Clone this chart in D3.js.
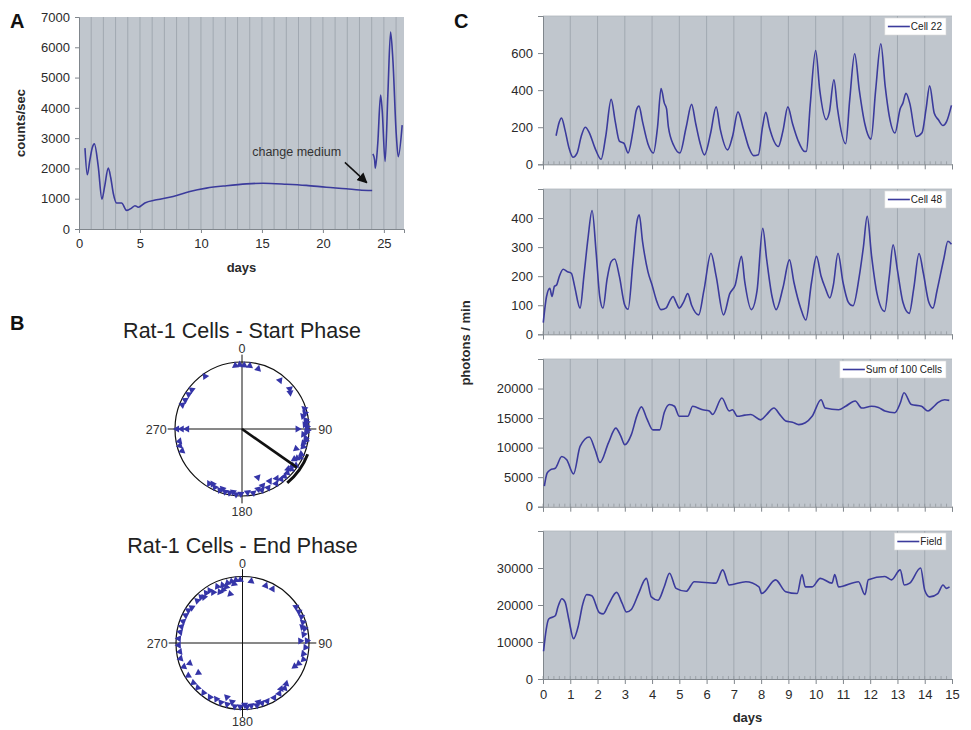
<!DOCTYPE html>
<html><head><meta charset="utf-8">
<script src="https://cdn.jsdelivr.net/npm/d3@7"></script>
<style>
body{margin:0;background:#fff}
svg{display:block}
text{font-family:"Liberation Sans",Arial,Helvetica,sans-serif}
</style>
</head><body>
<svg id="fig" width="971" height="730"></svg>
<script>
// ---------- Panel A: long-term recording, counts/sec vs days ----------
const aYTicks = [0,1000,2000,3000,4000,5000,6000,7000];
const aXTicks = [0,5,10,15,20,25];
const aBefore = [[0.49,2670],[0.68,1790],[0.9,2300],[1.1,2700],[1.26,2810],[1.58,2060],[1.88,990],[2.1,1400],[2.4,2010],[2.6,1700],[2.81,1180],[3.08,860],[3.49,860],[3.9,615],[4.31,690],[4.59,770],[4.86,720],[5.4,860],[6.36,965],[7.72,1075],[9.09,1240],[10.45,1350],[12.09,1430],[13.73,1490],[15.09,1510],[17.0,1480],[18.64,1440],[20.28,1380],[21.92,1330],[23.0,1290],[24.04,1270]];
const aAfter = [[24.1,2480],[24.24,2280],[24.3,2010],[24.5,2830],[24.73,4420],[24.86,3930],[25.1,2230],[25.33,4480],[25.55,6500],[25.74,5570],[26.01,3160],[26.18,2390],[26.5,3430]];
const aNote = {text:"change medium", at:[17.85,2420], from:[21.8,2200], to:[23.6,1530]};

// ---------- Panel B: phase distributions, [angle in degrees, radius fraction] ----------
const startPhase = [[354,.95],[358,.96],[2,.95],[7,.95],[15,.93],[38,.92],[50,.93],[53,.9],[72,.98],[76,.97],[78,.93],[82,.96],[84,.97],[86,.94],[88,.97],[90,.83],[91,.98],[93,.96],[95,.92],[98,.96],[100,.97],[103,.94],[106,.95],[110,.86],[113,.96],[116,.97],[118,.93],[120,.9],[124,.97],[126,.93],[129,.95],[131,.91],[134,.94],[138,.95],[142,.95],[145,.9],[148,.96],[152,.88],[156,.96],[160,.9],[162,.96],[162,.76],[165,.93],[170,.97],[175,.95],[181,.97],[185,.98],[188,.95],[191,.97],[195,.97],[198,.94],[200,.97],[205,.96],[208,.93],[211,.95],[250,.95],[255,.96],[259,.95],[270,.97],[270,.9],[270,.82],[292,.96],[297,.95],[303,.95],[308,.95],[325,.96]];
const endPhase = [[358,.95],[354,.95],[352,.9],[350,.94],[346,.93],[344,.88],[341,.92],[340,.85],[336,.93],[330,.88],[328,.93],[324,.93],[320,.9],[318,.93],[313,.93],[305,.93],[301,.95],[296,.95],[346,.76],[336,.84],[8,.94],[22,.93],[29,.93],[56,.97],[61,.97],[66,.97],[71,.96],[75,.93],[77,.96],[82,.93],[88,.97],[88,.87],[94,.95],[100,.93],[105,.95],[110,.9],[114,.86],[133,.9],[137,.93],[140,.9],[144,.94],[150,.95],[157,.95],[162,.95],[165,.92],[167,.96],[172,.95],[176,.96],[178,.93],[182,.96],[187,.96],[190,.9],[194,.95],[196,.85],[200,.95],[205,.93],[211,.95],[218,.95],[225,.95],[231,.95],[239,.95],[236,.8],[248,.95],[256,.96],[249,.85],[262,.95],[268,.96],[274,.96],[280,.95],[285,.95],[290,.95]];
const startMean = {angle:125, length:1.0, arcFrom:111, arcTo:140, arcRadius:1.05};
const phaseLabels = [0,90,180,270];

// ---------- Panel C: photons / min vs days ----------
const cXTicks = d3.range(0,16);
const cell22 = [[0.48,154],[0.6,230],[0.68,250],[0.8,190],[0.95,90],[1.1,38],[1.25,60],[1.4,150],[1.55,200],[1.7,170],[1.9,90],[2.13,27],[2.3,150],[2.5,350],[2.65,230],[2.8,125],[2.97,113],[3.12,61],[3.3,180],[3.42,290],[3.52,314],[3.65,230],[3.85,110],[4.05,61],[4.2,200],[4.33,409],[4.45,330],[4.53,300],[4.6,200],[4.8,100],[5.02,61],[5.25,200],[5.45,323],[5.6,220],[5.75,120],[5.92,51],[6.15,170],[6.35,310],[6.5,190],[6.77,78],[6.95,150],[7.15,283],[7.35,190],[7.55,90],[7.72,47],[7.9,52],[8.05,200],[8.17,280],[8.3,200],[8.63,96],[8.8,180],[8.98,310],[9.15,220],[9.35,130],[9.6,69],[9.66,70],[9.8,320],[10.0,614],[10.15,400],[10.39,241],[10.5,280],[10.67,456],[10.8,300],[11.1,111],[11.25,350],[11.43,596],[11.6,400],[11.8,220],[12.03,136],[12.2,400],[12.39,650],[12.55,420],[12.7,260],[12.91,169],[13.1,300],[13.2,330],[13.31,383],[13.45,330],[13.69,150],[13.9,170],[14.05,300],[14.18,423],[14.35,275],[14.5,240],[14.67,209],[14.8,230],[14.98,318]];
const cell48 = [[0.01,40],[0.13,130],[0.25,158],[0.33,130],[0.42,165],[0.5,170],[0.6,200],[0.74,224],[0.9,215],[1.04,210],[1.16,165],[1.36,90],[1.5,200],[1.65,330],[1.8,426],[1.95,280],[2.08,130],[2.2,90],[2.35,190],[2.5,250],[2.63,259],[2.8,200],[3.0,100],[3.12,86],[3.3,250],[3.45,390],[3.53,411],[3.65,320],[3.85,215],[4.0,170],[4.15,120],[4.33,85],[4.51,90],[4.65,115],[4.77,130],[4.88,110],[5.0,90],[5.15,110],[5.31,140],[5.45,100],[5.71,67],[5.9,150],[6.16,279],[6.35,200],[6.62,67],[6.85,140],[7.05,170],[7.28,268],[7.4,180],[7.64,85],[7.85,150],[8.06,365],[8.2,260],[8.4,130],[8.55,85],[8.8,160],[9.04,256],[9.2,180],[9.45,90],[9.64,49],[9.85,180],[10.03,268],[10.2,200],[10.35,160],[10.52,125],[10.65,170],[10.82,279],[11.0,180],[11.2,110],[11.37,98],[11.6,200],[11.75,300],[11.89,406],[12.05,270],[12.25,140],[12.53,79],[12.7,200],[12.84,308],[13.0,220],[13.2,110],[13.43,72],[13.6,160],[13.79,278],[13.95,210],[14.15,110],[14.3,90],[14.45,150],[14.7,260],[14.85,320],[14.98,310]];
const sum100 = [[0.05,3500],[0.15,5670],[0.27,6240],[0.45,6500],[0.69,8500],[0.87,7940],[1.12,5560],[1.36,10200],[1.7,11800],[1.91,9640],[2.09,7480],[2.4,10800],[2.67,13300],[2.85,12000],[3.0,10500],[3.24,12200],[3.45,15500],[3.61,16900],[3.8,15000],[4.03,13000],[4.28,13000],[4.45,16000],[4.64,17300],[4.82,17000],[5.0,15300],[5.31,15300],[5.49,17000],[5.86,16400],[6.1,16200],[6.22,15600],[6.56,18400],[6.83,16200],[6.95,16400],[7.13,15300],[7.4,15500],[7.62,15600],[7.98,14700],[8.2,15600],[8.47,16700],[8.7,15500],[8.9,14500],[9.15,14300],[9.38,13900],[9.62,14200],[9.87,15300],[10.2,18100],[10.35,16700],[10.84,16400],[11.1,17000],[11.45,17900],[11.69,16700],[12.05,17000],[12.3,16800],[12.54,16200],[12.9,15900],[13.1,17500],[13.24,19300],[13.51,17300],[13.88,17000],[14.12,16200],[14.3,16800],[14.48,17600],[14.73,18100],[14.9,18000]];
const field = [[0.02,7500],[0.12,13500],[0.21,16200],[0.45,17100],[0.55,19500],[0.69,21700],[0.81,20800],[0.95,16000],[1.12,10900],[1.3,14500],[1.45,20000],[1.6,22800],[1.79,22500],[2.07,17900],[2.21,17600],[2.39,19900],[2.7,23400],[2.9,20500],[3.06,18100],[3.24,18800],[3.5,23000],[3.73,26800],[3.79,27200],[3.97,22200],[4.22,21300],[4.45,25000],[4.64,28600],[4.88,24500],[5.25,23700],[5.55,26300],[6.34,25900],[6.59,29500],[6.83,25400],[7.44,26300],[7.92,24900],[8.02,23100],[8.53,26800],[8.9,23600],[9.32,23100],[9.5,28200],[9.62,24900],[9.87,24900],[10.17,27200],[10.6,25900],[10.7,28200],[10.84,24900],[11.57,26300],[11.81,22800],[11.93,26800],[12.54,27700],[12.78,26800],[13.1,29500],[13.25,25400],[13.45,25900],[13.85,30000],[14.0,24000],[14.18,22200],[14.48,23100],[14.67,25400],[14.79,24500],[14.91,24900]];

const cell22Ticks = [0,200,400,600];
const cell48Ticks = [0,100,200,300,400];
const sum100Ticks = [0,5000,10000,15000,20000];
const fieldTicks = [0,10000,20000,30000];

// ---------- styling ----------
const FILL = "#c0c6cd", GRID = "#99a1a9", LINE = "#3b3b9c", AXIS = "#80868c", TXT = "#2a2a2a";
const svg = d3.select("#fig");
svg.append("rect").attr("width",971).attr("height",730).attr("fill","#fff");

function styleAxis(g){
  g.select(".domain").attr("stroke",AXIS);
  g.selectAll(".tick line").attr("stroke",AXIS);
  g.selectAll(".tick text").attr("fill",TXT).style("font-size","13px");
}

// ====== Panel A ======
(function(){
  const x = d3.scaleLinear().domain([0,26.65]).range([79,404]);
  const y = d3.scaleLinear().domain([0,7000]).range([229,17]);
  const g = svg.append("g");
  g.append("rect").attr("x",x.range()[0]).attr("y",y.range()[1])
    .attr("width",x.range()[1]-x.range()[0]).attr("height",y.range()[0]-y.range()[1]).attr("fill",FILL);
  g.selectAll("line.grid").data(d3.range(1,27)).join("line")
    .attr("x1",d=>x(d)).attr("x2",d=>x(d)).attr("y1",y(0)).attr("y2",y(7000))
    .attr("stroke",GRID).attr("stroke-width",0.8);
  g.append("g").attr("transform",`translate(${x(0)},0)`)
    .call(d3.axisLeft(y).tickValues(aYTicks).tickSize(4).tickPadding(5).tickFormat(d3.format("d"))).call(styleAxis);
  g.append("g").attr("transform",`translate(0,${y(0)})`)
    .call(d3.axisBottom(x).tickValues(aXTicks).tickSize(4).tickPadding(6)).call(styleAxis);
  const line = d3.line().x(d=>x(d[0])).y(d=>y(d[1])).curve(d3.curveMonotoneX);
  [aBefore,aAfter].forEach(s=>g.append("path").attr("d",line(s)).attr("fill","none")
    .attr("stroke",LINE).attr("stroke-width",1.6));
  g.append("text").attr("x",x(aNote.at[0])).attr("y",y(aNote.at[1])).attr("text-anchor","middle")
    .attr("fill","#333").style("font-size","12.5px").text(aNote.text);
  const defs = svg.append("defs");
  defs.append("marker").attr("id","ah").attr("viewBox","0 0 10 10").attr("refX",9).attr("refY",5)
    .attr("markerWidth",7).attr("markerHeight",7).attr("orient","auto")
    .append("path").attr("d","M0,0 L10,5 L0,10 z").attr("fill","#111");
  g.append("line").attr("x1",x(aNote.from[0])).attr("y1",y(aNote.from[1]))
    .attr("x2",x(aNote.to[0])).attr("y2",y(aNote.to[1]))
    .attr("stroke","#111").attr("stroke-width",1.5).attr("marker-end","url(#ah)");
  g.append("text").attr("x",(x.range()[0]+x.range()[1])/2).attr("y",272).attr("text-anchor","middle")
    .style("font-weight","bold").style("font-size","13px").attr("fill",TXT).text("days");
  g.append("text").attr("transform",`translate(25,${(y.range()[0]+y.range()[1])/2}) rotate(-90)`)
    .attr("text-anchor","middle").style("font-weight","bold").style("font-size","13px").attr("fill",TXT).text("counts/sec");
  g.append("text").attr("x",10).attr("y",28).style("font-weight","bold").style("font-size","20px").attr("fill","#111").text("A");
})();

// ====== Panel B ======
svg.append("text").attr("x",10).attr("y",330).style("font-weight","bold").style("font-size","20px").attr("fill","#111").text("B");

function polar(cx, cy, R, title, titleY, bottomLabelGap, pts, mean){
  const g = svg.append("g").attr("transform",`translate(${cx},${cy})`);
  const r = d3.scaleLinear().domain([0,1]).range([0,R]);
  const a = d3.scaleLinear().domain([0,360]).range([0,2*Math.PI]);
  const px = (deg,f)=>r(f)*Math.sin(a(deg)), py = (deg,f)=>-r(f)*Math.cos(a(deg));
  g.append("text").attr("x",0).attr("y",titleY-cy).attr("text-anchor","middle")
    .style("font-size","21.5px").attr("fill","#222").text(title);
  g.append("circle").attr("r",r(1)).attr("fill","none").attr("stroke","#111").attr("stroke-width",1.2);
  g.append("line").attr("x1",px(270,1.11)).attr("x2",px(90,1.11)).attr("y1",0).attr("y2",0).attr("stroke","#111");
  g.append("line").attr("y1",py(0,1.11)).attr("y2",py(180,1.11)).attr("x1",0).attr("x2",0).attr("stroke","#111");
  const lab = g.append("g").style("font-size","12.5px").attr("fill","#333");
  lab.append("text").attr("x",0).attr("y",py(0,1.13)).attr("text-anchor","middle").text(phaseLabels[0]);
  lab.append("text").attr("x",px(90,1.11)+2).attr("y",5).attr("text-anchor","start").text(phaseLabels[1]);
  lab.append("text").attr("x",0).attr("y",r(1)+bottomLabelGap).attr("text-anchor","middle").text(phaseLabels[2]);
  lab.append("text").attr("x",px(270,1.11)-1).attr("y",5).attr("text-anchor","end").text(phaseLabels[3]);
  const tri = d3.symbol(d3.symbolTriangle).size(22);
  g.selectAll("path.pt").data(pts).join("path").attr("class","pt")
    .attr("d",tri).attr("fill","#3535a8")
    .attr("transform",d=>`translate(${px(d[0],d[1])},${py(d[0],d[1])}) rotate(${d[0]})`);
  if(mean){
    g.append("line").attr("x1",0).attr("y1",0).attr("x2",px(mean.angle,mean.length)).attr("y2",py(mean.angle,mean.length))
      .attr("stroke","#111").attr("stroke-width",2.6);
    const arc = d3.arc().innerRadius(r(mean.arcRadius)-1.5).outerRadius(r(mean.arcRadius)+1.5)
      .startAngle(a(mean.arcFrom)).endAngle(a(mean.arcTo));
    g.append("path").attr("d",arc()).attr("fill","#111");
  }
}
polar(242, 429, 67, "Rat-1 Cells - Start Phase", 338, 20, startPhase, startMean);
polar(242.5, 643, 66.5, "Rat-1 Cells - End Phase", 553, 16, endPhase, null);

// ====== Panel C ======
svg.append("text").attr("x",454).attr("y",28).style("font-weight","bold").style("font-size","20px").attr("fill","#111").text("C");
const cx = d3.scaleLinear().domain([0,15]).range([543,952]);
const cPanels = [
  {data:cell22, max:800,   ticks:cell22Ticks, top:16,  bottom:164.3, name:"Cell 22"},
  {data:cell48, max:500,   ticks:cell48Ticks, top:189, bottom:334.3, name:"Cell 48"},
  {data:sum100, max:25000, ticks:sum100Ticks, top:359, bottom:506.7, name:"Sum of 100 Cells"},
  {data:field,  max:40000, ticks:fieldTicks,  top:531, bottom:679,   name:"Field"}
];
cPanels.forEach((p,i)=>{
  const y = d3.scaleLinear().domain([0,p.max]).range([p.bottom,p.top]);
  const g = svg.append("g");
  g.append("rect").attr("x",cx(0)).attr("y",y(p.max)).attr("width",cx(15)-cx(0)).attr("height",y(0)-y(p.max)).attr("fill",FILL);
  g.append("line").attr("x1",cx(0)).attr("x2",cx(15)).attr("y1",y(p.max)).attr("y2",y(p.max)).attr("stroke","#b0b6bc").attr("stroke-width",0.8);
  g.selectAll("line.grid").data(d3.range(1,15)).join("line")
    .attr("x1",d=>cx(d)).attr("x2",d=>cx(d)).attr("y1",y(0)).attr("y2",y(p.max))
    .attr("stroke",GRID).attr("stroke-width",0.8);
  // minor ticks along the time axis
  g.selectAll("line.minor").data(d3.range(0,75).map(k=>k*0.2)).join("line")
    .attr("x1",d=>cx(d)).attr("x2",d=>cx(d)).attr("y1",y(0)).attr("y2",y(0)-3)
    .attr("stroke","#8c939a").attr("stroke-width",0.7);
  g.append("g").attr("transform",`translate(${cx(0)},0)`)
    .call(d3.axisLeft(y).tickValues(p.ticks.concat([p.max])).tickSize(5).tickPadding(5)
      .tickFormat(d=>d===p.max?"":d3.format("d")(d))).call(styleAxis);
  const xa = d3.axisBottom(cx).tickValues(cXTicks).tickSize(5).tickPadding(6);
  if(i<3) xa.tickFormat("");
  g.append("g").attr("transform",`translate(0,${y(0)})`).call(xa).call(styleAxis);
  const line = d3.line().x(d=>cx(d[0])).y(d=>y(d[1])).curve(d3.curveMonotoneX);
  g.append("path").attr("d",line(p.data)).attr("fill","none").attr("stroke",LINE).attr("stroke-width",1.6);
  // legend
  const lg = g.append("g");
  const t = lg.append("text").style("font-size","10px").attr("fill","#222").text(p.name);
  const tw = t.node().getComputedTextLength();
  const right = cx(15)-6, boxW = tw+30, bx = right-boxW, by = y(p.max)+2;
  lg.insert("rect","text").attr("x",bx).attr("y",by).attr("width",boxW).attr("height",17)
    .attr("fill","#fff").attr("stroke","#d8d8d8").attr("stroke-width",0.6);
  lg.append("line").attr("x1",bx+3).attr("x2",bx+25).attr("y1",by+8.5).attr("y2",by+8.5).attr("stroke",LINE).attr("stroke-width",1.6);
  t.attr("x",bx+26).attr("y",by+12.3);
});
svg.append("text").attr("x",(cx(0)+cx(15))/2).attr("y",722).attr("text-anchor","middle")
  .style("font-weight","bold").style("font-size","13px").attr("fill",TXT).text("days");
svg.append("text").attr("transform","translate(470,343) rotate(-90)").attr("text-anchor","middle")
  .style("font-weight","bold").style("font-size","13px").attr("fill",TXT).text("photons / min");
</script>
</body></html>
